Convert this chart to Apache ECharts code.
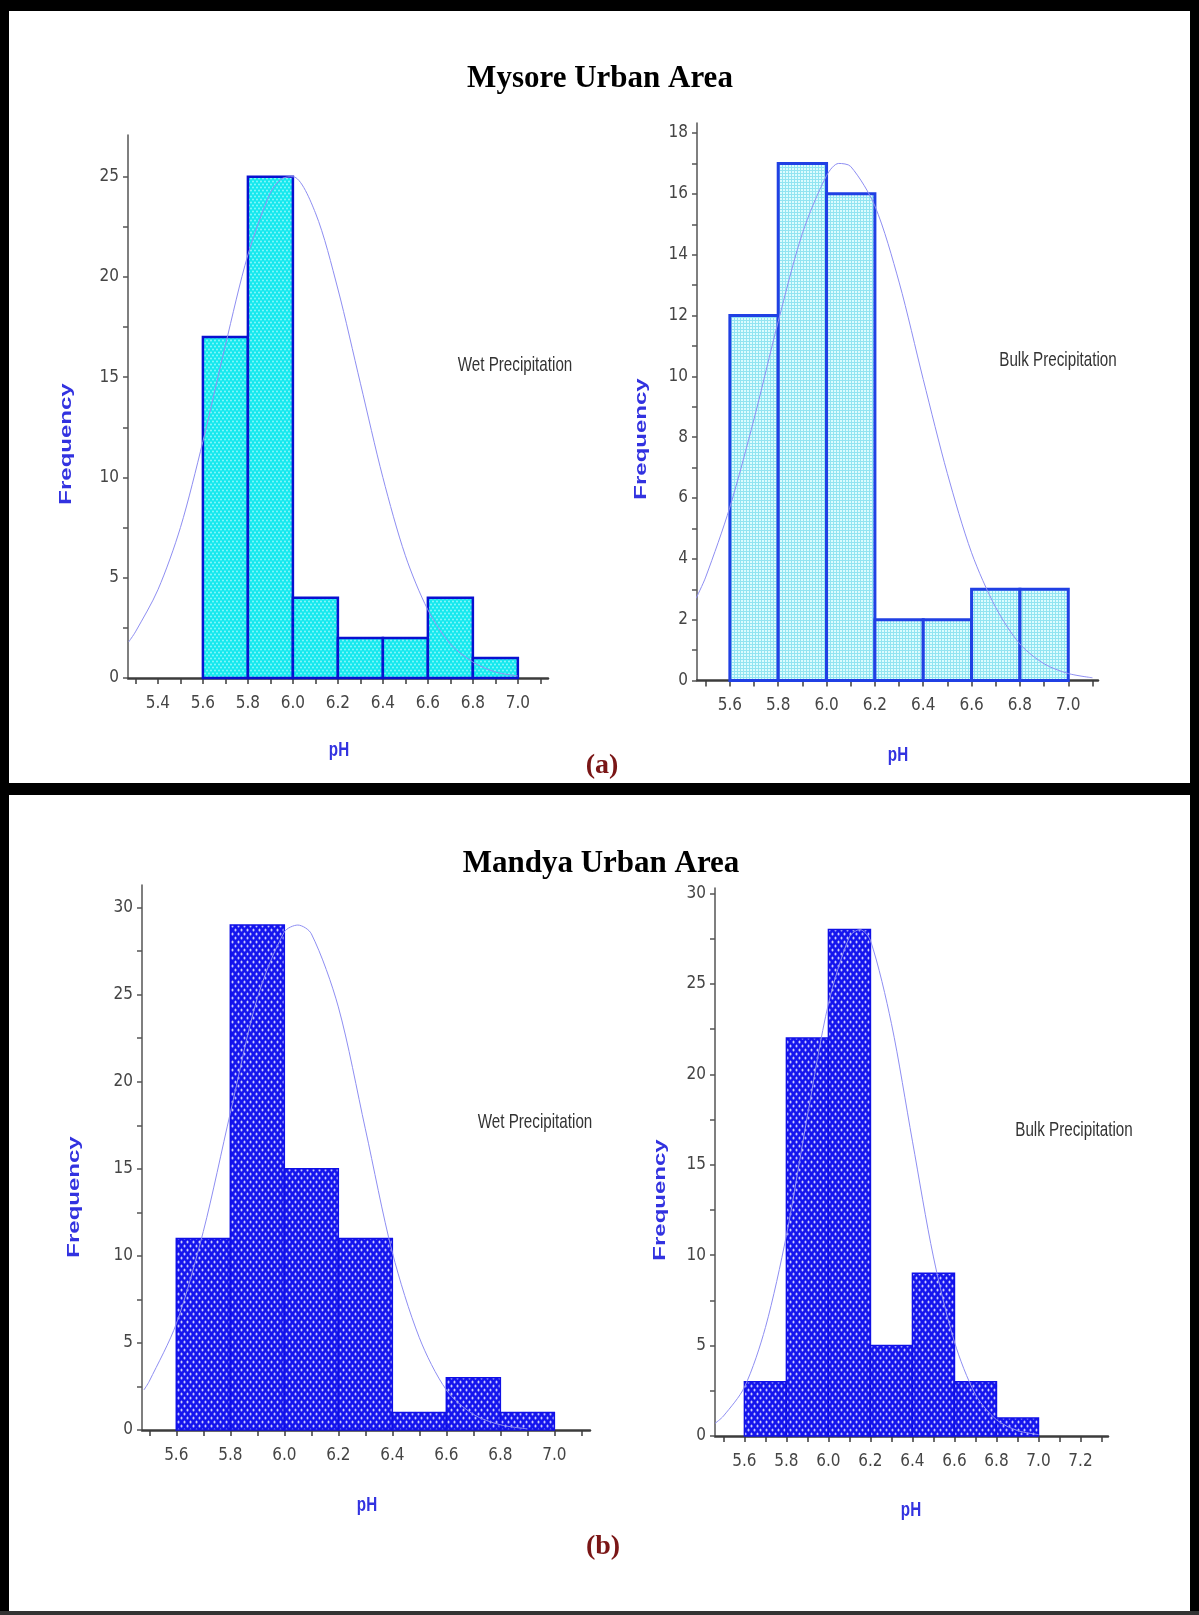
<!DOCTYPE html>
<html>
<head>
<meta charset="utf-8">
<title>pH frequency - Mysore / Mandya</title>
<script src="https://cdn.jsdelivr.net/npm/echarts@6/dist/echarts.min.js"></script>
<style>
  html, body { margin: 0; padding: 0; background: #fff; }
  #main { width: 1199px; height: 1615px; }
</style>
</head>
<body>
<div id="main"></div>
<script>
// bin edges shared by all four histograms
const phEdges = [5.6, 5.8, 6.0, 6.2, 6.4, 6.6, 6.8, 7.0];

// frequencies per bin
const mysoreWet = [17, 25, 4, 2, 2, 4, 1];
const mysoreBulk = [12, 17, 16, 2, 2, 3, 3];
const mandyaWet = [11, 29, 15, 11, 1, 3, 1];
const mandyaBulk = [3, 22, 28, 5, 9, 3, 1];

// fitted normal curves
const mysoreWetCurveX = [5.27, 5.3, 5.4, 5.5, 5.6, 5.7, 5.8, 5.9, 5.95, 6.0, 6.1, 6.2, 6.3, 6.4, 6.5, 6.6, 6.7, 6.8, 6.9, 7.0];
const mysoreWetCurveY = [1.8, 2.3, 4.4, 7.5, 11.8, 16.6, 21.1, 24.2, 24.9, 25.0, 23.2, 19.4, 14.7, 10.0, 6.1, 3.4, 1.7, 0.8, 0.3, 0.1];
const mysoreBulkCurveX = [5.46, 5.5, 5.6, 5.7, 5.8, 5.9, 6.0, 6.05, 6.1, 6.2, 6.3, 6.4, 6.5, 6.6, 6.7, 6.8, 6.9, 7.0, 7.1];
const mysoreBulkCurveY = [2.7, 3.4, 5.7, 8.6, 11.8, 14.7, 16.6, 17.0, 16.9, 15.6, 13.1, 9.9, 6.8, 4.2, 2.4, 1.2, 0.55, 0.23, 0.09];
const mandyaWetCurveX = [5.48, 5.5, 5.6, 5.7, 5.8, 5.9, 6.0, 6.05, 6.1, 6.2, 6.3, 6.4, 6.5, 6.6, 6.7, 6.8, 6.9];
const mandyaWetCurveY = [2.3, 2.8, 6.1, 11.4, 18.2, 24.8, 28.6, 29.0, 28.5, 24.3, 17.3, 10.2, 5.3, 2.3, 0.9, 0.3, 0.07];
const mandyaBulkCurveX = [5.46, 5.5, 5.6, 5.7, 5.8, 5.9, 6.0, 6.1, 6.15, 6.2, 6.3, 6.4, 6.5, 6.6, 6.7, 6.8, 6.9, 7.0];
const mandyaBulkCurveY = [0.7, 1.1, 2.7, 6.0, 11.1, 17.7, 23.9, 27.6, 28.0, 27.4, 22.8, 16.3, 9.9, 5.2, 2.3, 0.9, 0.3, 0.08];

// tick labels / tick marks
const xLabelsMysoreWet = [5.4, 5.6, 5.8, 6.0, 6.2, 6.4, 6.6, 6.8, 7.0];
const xTicksMysoreWet = [5.3, 5.4, 5.5, 5.6, 5.7, 5.8, 5.9, 6.0, 6.1, 6.2, 6.3, 6.4, 6.5, 6.6, 6.7, 6.8, 6.9, 7.0, 7.1];
const xLabelsTo70 = [5.6, 5.8, 6.0, 6.2, 6.4, 6.6, 6.8, 7.0];
const xTicksTo71 = [5.5, 5.6, 5.7, 5.8, 5.9, 6.0, 6.1, 6.2, 6.3, 6.4, 6.5, 6.6, 6.7, 6.8, 6.9, 7.0, 7.1];
const xLabelsTo72 = [5.6, 5.8, 6.0, 6.2, 6.4, 6.6, 6.8, 7.0, 7.2];
const xTicksTo73 = [5.5, 5.6, 5.7, 5.8, 5.9, 6.0, 6.1, 6.2, 6.3, 6.4, 6.5, 6.6, 6.7, 6.8, 6.9, 7.0, 7.1, 7.2, 7.3];
const yLabels25 = [0, 5, 10, 15, 20, 25];
const yTicks25 = [0, 2.5, 5, 7.5, 10, 12.5, 15, 17.5, 20, 22.5, 25];
const yLabels18 = [0, 2, 4, 6, 8, 10, 12, 14, 16, 18];
const yTicks18 = [0, 1, 2, 3, 4, 5, 6, 7, 8, 9, 10, 11, 12, 13, 14, 15, 16, 17, 18];
const yLabels30 = [0, 5, 10, 15, 20, 25, 30];
const yTicks30 = [0, 2.5, 5, 7.5, 10, 12.5, 15, 17.5, 20, 22.5, 25, 27.5, 30];

// fill patterns
function makePattern(w, h, bg, draw) {
  const c = document.createElement("canvas");
  c.width = w;
  c.height = h;
  const g = c.getContext("2d");
  g.fillStyle = bg;
  g.fillRect(0, 0, w, h);
  draw(g);
  return { image: c, repeat: "repeat" };
}
function dot(g, x, y, rx, ry) {
  g.beginPath();
  g.ellipse(x, y, rx, ry, 0, 0, Math.PI * 2);
  g.fill();
}
const cyanDots = makePattern(4, 6, "#14e8ee", (g) => {
  g.fillStyle = "rgba(190,255,255,0.75)";
  dot(g, 1, 1.5, 0.9, 1.1);
  dot(g, 3, 4.5, 0.9, 1.1);
});
const cyanGrid = makePattern(3, 3, "#dcfcfe", (g) => {
  g.fillStyle = "#92e4f1";
  g.fillRect(2, 0, 1, 3);
  g.fillRect(0, 2, 3, 1);
});
const blueDots = makePattern(6, 8, "#1515ee", (g) => {
  g.fillStyle = "rgba(235,235,255,0.85)";
  dot(g, 1.5, 2, 1, 1.5);
  dot(g, 4.5, 6, 1, 1.5);
});

function binData(counts) {
  return counts.map((c, i) => [phEdges[i], phEdges[i + 1], c]);
}
function pairs(xs, ys) {
  return xs.map((x, i) => [x, ys[i]]);
}

function histSeries(idx, counts, fill, stroke, lw) {
  return {
    type: "custom",
    xAxisIndex: idx,
    yAxisIndex: idx,
    data: binData(counts),
    encode: { x: [0, 1], y: 2 },
    z: 2,
    renderItem: (params, api) => {
      const p0 = api.coord([api.value(0), 0]);
      const p1 = api.coord([api.value(1), api.value(2)]);
      return {
        type: "rect",
        shape: { x: p0[0], y: p1[1], width: p1[0] - p0[0], height: p0[1] - p1[1] },
        style: { fill: fill, stroke: stroke, lineWidth: lw },
      };
    },
  };
}
function curveSeries(idx, xs, ys) {
  return {
    type: "line",
    xAxisIndex: idx,
    yAxisIndex: idx,
    data: pairs(xs, ys),
    showSymbol: false,
    smooth: 0.3,
    z: 5,
    silent: true,
    lineStyle: { color: "#8e8ef2", width: 1 },
  };
}

const labelFont = "'Liberation Sans Narrow', 'DejaVu Sans Condensed', 'Liberation Sans', sans-serif";

function xAxisCfg(idx, min, max, labels, ticks) {
  return {
    type: "value",
    gridIndex: idx,
    min: min,
    max: max,
    axisLine: { onZero: false, lineStyle: { color: "#3c3c3c", width: 2.5 } },
    axisTick: { customValues: ticks, length: 6, lineStyle: { color: "#3c3c3c", width: 1.5 } },
    axisLabel: {
      customValues: labels,
      formatter: (v) => v.toFixed(1),
      margin: 17,
      color: "#454545",
      fontFamily: labelFont,
      fontSize: 17,
    },
    splitLine: { show: false },
  };
}
function yAxisCfg(idx, max, labels, ticks) {
  return {
    type: "value",
    gridIndex: idx,
    min: 0,
    max: max,
    axisLine: { show: true, lineStyle: { color: "#555", width: 1.5 } },
    axisTick: { show: true, customValues: ticks, length: 5, lineStyle: { color: "#555", width: 1.5 } },
    axisLabel: {
      customValues: labels,
      margin: 9,
      color: "#454545",
      fontFamily: labelFont,
      fontSize: 17,
    },
    splitLine: { show: false },
  };
}

function txt(x, y, text, font, fill, extra) {
  return Object.assign(
    {
      type: "text",
      x: x,
      y: y,
      z: 10,
      style: { text: text, font: font, fill: fill, align: "center", verticalAlign: "middle" },
    },
    extra || {}
  );
}
const serifBold = "bold 31px 'Liberation Serif', 'Times New Roman', serif";
const capFont = "bold 28px 'Liberation Serif', 'Times New Roman', serif";
const axisNameFont = "bold 16px 'Liberation Sans', Arial, sans-serif";
const noteFont = "19px 'Liberation Sans', Arial, sans-serif";
const blue = "#3232e0";

const chart = echarts.init(document.getElementById("main"));
chart.setOption({
  animation: false,
  backgroundColor: "#fff",
  grid: [
    { left: 128, top: 135, width: 420, height: 543 },
    { left: 697, top: 123, width: 401, height: 557.5 },
    { left: 142, top: 885, width: 448, height: 545 },
    { left: 715, top: 888, width: 393, height: 548 },
  ],
  xAxis: [
    xAxisCfg(0, 5.267, 7.134, xLabelsMysoreWet, xTicksMysoreWet),
    xAxisCfg(1, 5.464, 7.123, xLabelsTo70, xTicksTo71),
    xAxisCfg(2, 5.473, 7.132, xLabelsTo70, xTicksTo71),
    xAxisCfg(3, 5.46, 7.331, xLabelsTo72, xTicksTo73),
  ],
  yAxis: [
    yAxisCfg(0, 27.08, yLabels25, yTicks25),
    yAxisCfg(1, 18.33, yLabels18, yTicks18),
    yAxisCfg(2, 31.3, yLabels30, yTicks30),
    yAxisCfg(3, 30.3, yLabels30, yTicks30),
  ],
  series: [
    histSeries(0, mysoreWet, cyanDots, "#0a10d0", 2.5),
    histSeries(1, mysoreBulk, cyanGrid, "#2040e4", 3),
    histSeries(2, mandyaWet, blueDots, "#1010e6", 1.5),
    histSeries(3, mandyaBulk, blueDots, "#1010e6", 1.5),
    curveSeries(0, mysoreWetCurveX, mysoreWetCurveY),
    curveSeries(1, mysoreBulkCurveX, mysoreBulkCurveY),
    curveSeries(2, mandyaWetCurveX, mandyaWetCurveY),
    curveSeries(3, mandyaBulkCurveX, mandyaBulkCurveY),
  ],
  graphic: [
    // frame
    { type: "rect", shape: { x: 0, y: 0, width: 1199, height: 11 }, style: { fill: "#000" } },
    { type: "rect", shape: { x: 0, y: 0, width: 9, height: 1615 }, style: { fill: "#000" } },
    { type: "rect", shape: { x: 1190, y: 0, width: 9, height: 1615 }, style: { fill: "#000" } },
    { type: "rect", shape: { x: 0, y: 783, width: 1199, height: 12 }, style: { fill: "#000" } },
    { type: "rect", shape: { x: 0, y: 1611, width: 1199, height: 4 }, style: { fill: "#333" } },
    // panel titles
    txt(600, 79, "Mysore Urban Area", serifBold, "#000"),
    txt(601, 864, "Mandya Urban Area", serifBold, "#000"),
    txt(602, 766, "(a)", capFont, "#7a1616"),
    txt(603, 1547, "(b)", capFont, "#7a1616"),
    // axis names
    txt(67, 444, "Frequency", axisNameFont, blue, { rotation: Math.PI / 2, scaleX: 1.5 }),
    txt(642, 439, "Frequency", axisNameFont, blue, { rotation: Math.PI / 2, scaleX: 1.5 }),
    txt(75, 1197, "Frequency", axisNameFont, blue, { rotation: Math.PI / 2, scaleX: 1.5 }),
    txt(661, 1200, "Frequency", axisNameFont, blue, { rotation: Math.PI / 2, scaleX: 1.5 }),
    txt(339, 750, "pH", axisNameFont, blue, { scaleX: 0.95, scaleY: 1.3 }),
    txt(898, 755, "pH", axisNameFont, blue, { scaleX: 0.95, scaleY: 1.3 }),
    txt(367, 1505, "pH", axisNameFont, blue, { scaleX: 0.95, scaleY: 1.3 }),
    txt(911, 1510, "pH", axisNameFont, blue, { scaleX: 0.95, scaleY: 1.3 }),
    // series notes
    txt(515, 365, "Wet Precipitation", noteFont, "#333", { scaleX: 0.8, scaleY: 1.1 }),
    txt(1058, 360, "Bulk Precipitation", noteFont, "#333", { scaleX: 0.8, scaleY: 1.1 }),
    txt(535, 1122, "Wet Precipitation", noteFont, "#333", { scaleX: 0.8, scaleY: 1.1 }),
    txt(1074, 1130, "Bulk Precipitation", noteFont, "#333", { scaleX: 0.8, scaleY: 1.1 }),
  ],
});
</script>
</body>
</html>
